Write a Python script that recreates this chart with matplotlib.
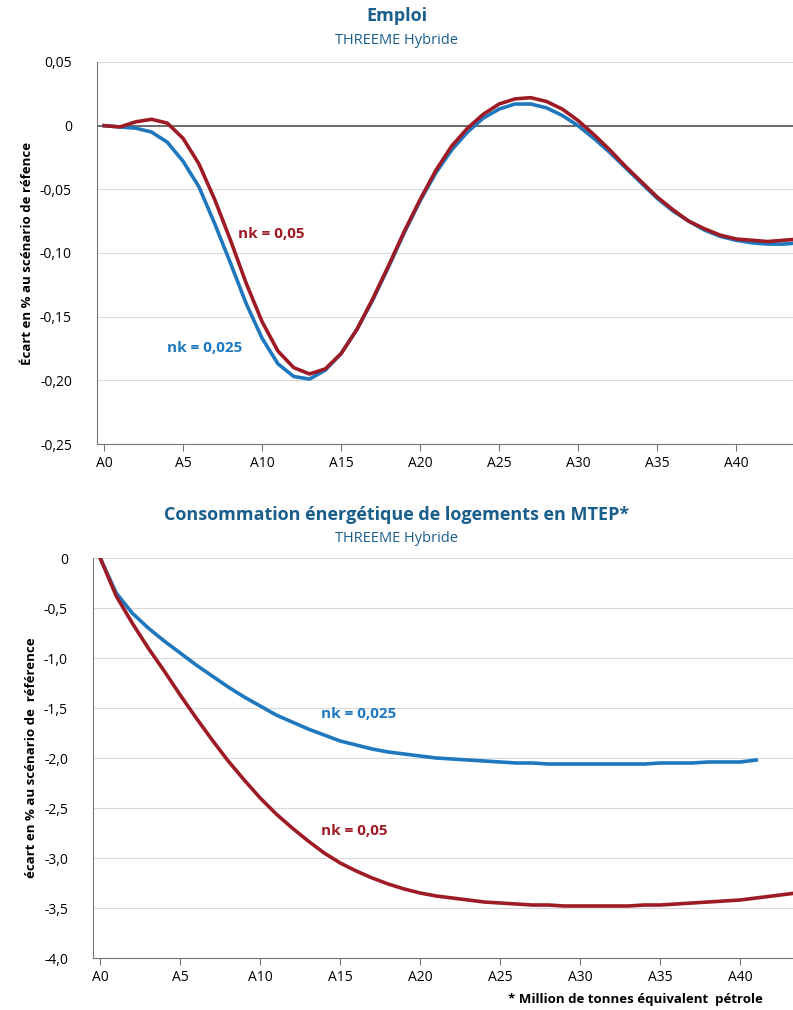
import matplotlib
matplotlib.use("Agg")
import matplotlib.pyplot as plt
from matplotlib.ticker import FuncFormatter

plt.rcParams['font.family'] = ['Open Sans', 'DejaVu Sans']

BLUE = '#1f78be'; RED = '#9e1b25'; TITLE = '#1a5e8c'

emploi_025 = [0, -0.001, -0.002, -0.005, -0.013, -0.028, -0.048, -0.077, -0.108, -0.140, -0.167, -0.187,
              -0.197, -0.199, -0.192, -0.179, -0.160, -0.137, -0.111, -0.084, -0.059, -0.037, -0.019, -0.005,
              0.006, 0.013, 0.017, 0.017, 0.014, 0.008, 0.000, -0.010, -0.021, -0.033, -0.045, -0.057, -0.067,
              -0.075, -0.082, -0.087, -0.090, -0.092, -0.093, -0.093, -0.092]
emploi_05 = [0, -0.001, 0.003, 0.005, 0.002, -0.010, -0.030, -0.058, -0.090, -0.124, -0.154, -0.177, -0.190,
             -0.195, -0.191, -0.179, -0.160, -0.136, -0.110, -0.083, -0.058, -0.035, -0.016, -0.002, 0.009,
             0.017, 0.021, 0.022, 0.019, 0.013, 0.004, -0.007, -0.019, -0.032, -0.044, -0.056, -0.066, -0.075,
             -0.081, -0.086, -0.089, -0.090, -0.091, -0.090, -0.089]
conso_025 = [0, -0.35, -0.55, -0.70, -0.83, -0.95, -1.07, -1.18, -1.29, -1.39, -1.48, -1.57, -1.64, -1.71,
             -1.77, -1.83, -1.87, -1.91, -1.94, -1.96, -1.98, -2.00, -2.01, -2.02, -2.03, -2.04, -2.05, -2.05,
             -2.06, -2.06, -2.06, -2.06, -2.06, -2.06, -2.06, -2.05, -2.05, -2.05, -2.04, -2.04, -2.04, -2.02]
conso_05 = [0, -0.38, -0.65, -0.90, -1.13, -1.37, -1.60, -1.82, -2.03, -2.22, -2.40, -2.56, -2.70, -2.83,
            -2.95, -3.05, -3.13, -3.20, -3.26, -3.31, -3.35, -3.38, -3.40, -3.42, -3.44, -3.45, -3.46, -3.47,
            -3.47, -3.48, -3.48, -3.48, -3.48, -3.48, -3.47, -3.47, -3.46, -3.45, -3.44, -3.43, -3.42, -3.40,
            -3.38, -3.36, -3.34]
xticks = list(range(0, 41, 5))
xlabels = [f"A{i}" for i in xticks]

fig = plt.figure(figsize=(7.93, 10.10), dpi=100)
W, H = 793, 1010
fmt = FuncFormatter(lambda v, p: ('0' if abs(v) < 1e-9 else f"{v:.2f}".replace('.', ',')))
fmt1 = FuncFormatter(lambda v, p: ('0' if abs(v) < 1e-9 else f"{v:.1f}".replace('.', ',')))

def style(ax):
    for s in ['top', 'right']:
        ax.spines[s].set_visible(False)
    ax.spines['left'].set_color('#777777')
    ax.spines['bottom'].set_color('#777777')
    ax.grid(axis='y', color='#d9d9d9', lw=0.8)
    ax.set_axisbelow(True)
    ax.set_xticks(xticks); ax.set_xticklabels(xlabels)
    ax.tick_params(axis='y', length=0, labelsize=10, pad=18)
    ax.tick_params(axis='x', length=5, color='#777777', labelsize=10, direction='out')

ax1 = fig.add_axes([97/W, 1-444/H, (793-97)/W, (444-62)/H])
x1 = range(len(emploi_025))
ax1.plot(x1, emploi_025, color=BLUE, lw=2.6)
ax1.plot(x1, emploi_05, color=RED, lw=2.6)
ax1.axhline(0, color='#555555', lw=1.2, zorder=1)
ax1.set_xlim(-0.45, 43.6); ax1.set_ylim(-0.25, 0.05)
ax1.set_yticks([0.05, 0, -0.05, -0.10, -0.15, -0.20, -0.25])
ax1.yaxis.set_major_formatter(fmt)
style(ax1)
ax1.set_ylabel('Écart en % au scénario de réfence', fontsize=9.5, fontweight='bold')
ax1.text(8.5, -0.088, 'nk = 0,05', color=RED, fontsize=11, fontweight='bold')
ax1.text(4.0, -0.178, 'nk = 0,025', color=BLUE, fontsize=11, fontweight='bold')
fig.text(0.5, 1-16/H, 'Emploi', ha='center', va='center', color=TITLE, fontsize=13, fontweight='bold')
fig.text(0.5, 1-40/H, 'THREEME Hybride', ha='center', va='center', color=TITLE, fontsize=10.5)

ax2 = fig.add_axes([93/W, 1-958/H, (793-93)/W, (958-558)/H])
ax2.plot(range(len(conso_025)), conso_025, color=BLUE, lw=2.6)
ax2.plot(range(len(conso_05)), conso_05, color=RED, lw=2.6)
ax2.set_xlim(-0.45, 43.3); ax2.set_ylim(-4.0, 0)
ax2.set_yticks([0, -0.5, -1, -1.5, -2, -2.5, -3, -3.5, -4])
ax2.yaxis.set_major_formatter(fmt1)
style(ax2)
ax2.set_ylabel('écart en % au scénario de  référence', fontsize=9.5, fontweight='bold')
ax2.text(13.8, -1.6, 'nk = 0,025', color=BLUE, fontsize=11, fontweight='bold')
ax2.text(13.8, -2.77, 'nk = 0,05', color=RED, fontsize=11, fontweight='bold')
fig.text(0.5, 1-515/H, 'Consommation énergétique de logements en MTEP*', ha='center', va='center',
         color=TITLE, fontsize=13, fontweight='bold')
fig.text(0.5, 1-538/H, 'THREEME Hybride', ha='center', va='center', color=TITLE, fontsize=10.5)
fig.text(763/W, 1-1000/H, '* Million de tonnes équivalent  pétrole', ha='right', va='center',
         fontsize=9.5, fontweight='bold')

fig.savefig('out.png', dpi=100)
